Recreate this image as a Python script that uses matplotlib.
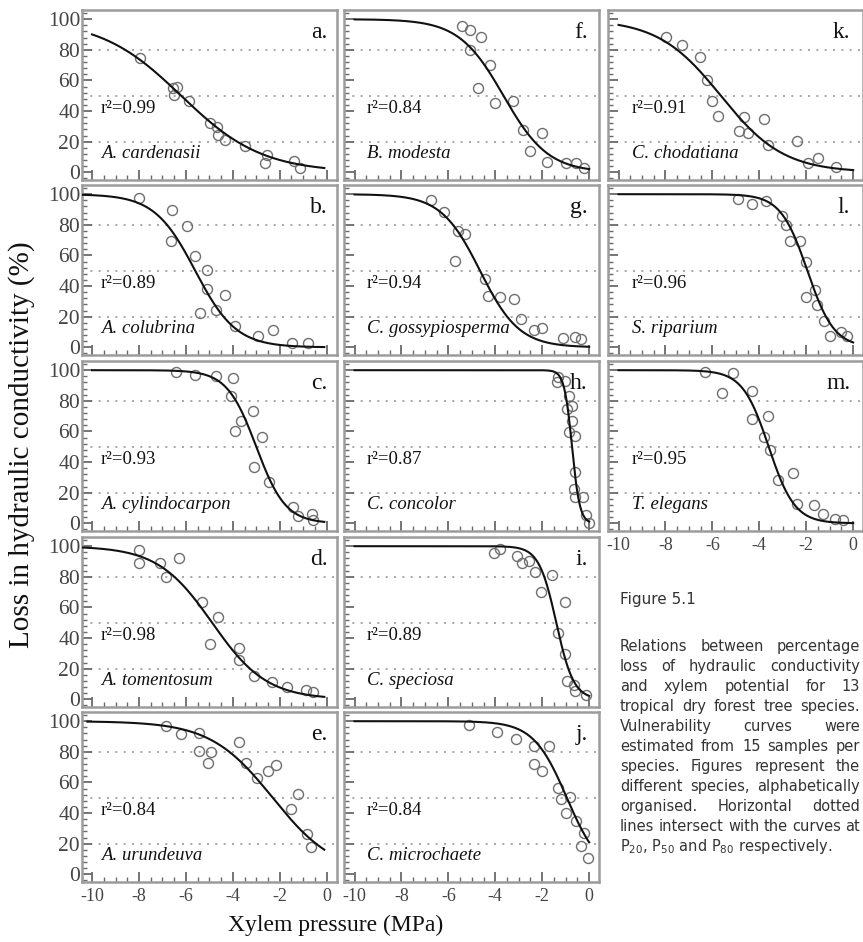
import numpy as np
import matplotlib
matplotlib.use('Agg')
import matplotlib.pyplot as plt
from matplotlib.ticker import MultipleLocator
from matplotlib.transforms import blended_transform_factory

plt.rcParams['axes.unicode_minus'] = False

W, H, DPI = 863, 942, 100

# ---------------- data ----------------
panel_ids = ['a', 'b', 'c', 'd', 'e', 'f', 'g', 'h', 'i', 'j', 'k', 'l', 'm']
species = ['A. cardenasii', 'A. colubrina', 'A. cylindocarpon', 'A. tomentosum', 'A. urundeuva',
           'B. modesta', 'C. gossypiosperma', 'C. concolor', 'C. speciosa', 'C. microchaete',
           'C. chodatiana', 'S. riparium', 'T. elegans']
r2 = ['0.99', '0.89', '0.93', '0.98', '0.84', '0.84', '0.94', '0.87', '0.89', '0.84', '0.91', '0.96', '0.95']

# fitted vulnerability curve parameters (P50 in MPa, slope)
p50 = [-6.2, -5.6, -3.0, -4.88, -2.3, -3.65, -4.65, -0.73, -1.4, -0.95, -5.64, -1.95, -3.6]
slope = [0.58, 1.15, 1.6, 0.86, 0.75, 1.05, 1.2, 6.0, 2.7, 1.4, 0.745, 1.75, 1.8]
curve_start = [-10.0, -10.4, -10.0, -10.4, -10.2, -10.0, -10.0, -10.0, -10.0, -10.0, -10.0, -10.0, -10.0]
curve_end = [-0.1, -0.1, -0.1, -0.1, -0.1, 0.0, 0.0, 0.0, 0.0, 0.0, 0.0, 0.0, 0.0]

a_x = [-7.95, -6.57, -6.38, -6.52, -5.88, -4.99, -4.67, -4.64, -4.32, -3.46, -2.54, -2.61, -1.40, -1.14]
a_y = [74.6, 55.0, 55.6, 50.6, 46.3, 32.0, 29.5, 24.4, 21.2, 17.2, 11.3, 6.3, 7.6, 2.6]
b_x = [-7.98, -6.60, -5.95, -6.64, -5.63, -5.10, -5.10, -4.32, -5.41, -4.70, -3.89, -2.92, -2.28, -1.47, -0.80]
b_y = [97.5, 89.9, 79.1, 69.7, 59.6, 50.7, 37.9, 34.0, 22.5, 24.3, 13.9, 7.4, 11.3, 3.0, 2.6]
c_x = [-6.41, -5.63, -4.70, -4.00, -4.06, -3.65, -3.13, -3.92, -2.76, -3.08, -2.44, -1.44, -1.21, -0.61, -0.57]
c_y = [99.0, 96.9, 96.2, 94.6, 83.2, 67.0, 73.1, 60.5, 56.2, 37.1, 26.9, 10.7, 4.6, 5.9, 2.0]
d_x = [-8.02, -8.02, -7.09, -6.31, -6.84, -5.31, -4.64, -4.99, -3.75, -3.75, -3.11, -2.32, -1.71, -0.90, -0.57]
d_y = [97.2, 88.7, 89.1, 92.4, 79.8, 63.5, 53.9, 35.9, 33.3, 25.4, 15.2, 11.3, 8.3, 5.9, 5.0]
e_x = [-6.84, -6.20, -5.46, -5.46, -4.93, -5.07, -3.72, -3.42, -2.99, -2.52, -2.14, -1.54, -1.24, -0.85, -0.68]
e_y = [97.0, 91.5, 92.2, 80.7, 79.6, 72.6, 86.5, 72.6, 63.0, 67.6, 71.3, 42.9, 52.6, 26.5, 18.0]
f_x = [-5.44, -5.08, -4.63, -5.09, -4.23, -4.73, -4.00, -3.26, -2.83, -2.00, -2.54, -1.79, -0.97, -0.56, -0.20]
f_y = [95.8, 92.7, 88.2, 80.1, 69.8, 55.0, 45.2, 46.3, 27.7, 26.0, 14.0, 7.0, 5.9, 5.9, 2.6]
g_x = [-6.74, -6.19, -5.61, -5.28, -5.73, -4.46, -4.31, -3.78, -3.20, -2.91, -2.37, -2.00, -1.10, -0.61, -0.35]
g_y = [96.2, 88.2, 76.2, 74.1, 56.3, 44.8, 33.4, 32.9, 31.8, 18.2, 11.3, 12.8, 5.8, 6.5, 5.2]
h_x = [-1.31, -1.36, -1.03, -0.85, -0.71, -0.95, -0.75, -0.88, -0.61, -0.59, -0.66, -0.27, -0.61, -0.13, -0.01]
h_y = [95.6, 92.0, 93.0, 83.2, 76.7, 74.5, 66.5, 59.4, 57.3, 33.4, 22.6, 17.2, 17.2, 5.3, 0.3]
i_x = [-4.05, -3.78, -3.09, -2.87, -2.58, -2.29, -1.57, -2.05, -1.04, -1.32, -1.04, -0.95, -0.64, -0.59, -0.13]
i_y = [95.8, 98.4, 93.6, 88.7, 90.2, 83.2, 81.1, 69.8, 63.7, 43.2, 29.6, 12.2, 9.6, 5.3, 2.7]
j_x = [-5.11, -3.91, -3.10, -2.33, -1.73, -2.37, -2.03, -1.34, -1.21, -0.83, -1.00, -0.57, -0.36, -0.06, -0.20]
j_y = [97.6, 93.0, 88.5, 83.9, 83.9, 72.0, 67.6, 56.6, 49.0, 50.6, 40.0, 35.0, 18.7, 10.9, 27.0]
k_x = [-7.97, -7.31, -6.51, -6.21, -6.00, -5.74, -4.64, -3.81, -4.88, -4.49, -3.63, -2.39, -1.94, -1.48, -0.73]
k_y = [88.4, 83.4, 75.1, 60.0, 46.3, 36.9, 36.0, 34.9, 27.3, 26.0, 17.9, 20.5, 6.3, 9.2, 3.3]
l_x = [-4.92, -4.30, -3.73, -3.03, -2.85, -2.70, -2.27, -2.02, -2.02, -1.63, -1.53, -1.23, -0.99, -0.53, -0.27]
l_y = [96.8, 93.6, 95.3, 86.0, 79.9, 69.7, 69.7, 55.7, 32.9, 37.3, 27.5, 17.1, 7.4, 10.2, 7.4]
m_x = [-6.31, -5.11, -5.57, -4.30, -4.30, -3.63, -3.81, -3.56, -3.20, -2.56, -2.39, -1.66, -1.27, -0.77, -0.42]
m_y = [99.0, 97.9, 84.8, 86.5, 68.1, 70.2, 56.6, 47.9, 28.5, 32.7, 12.9, 11.8, 5.9, 3.1, 2.5]

points_x = [a_x, b_x, c_x, d_x, e_x, f_x, g_x, h_x, i_x, j_x, k_x, l_x, m_x]
points_y = [a_y, b_y, c_y, d_y, e_y, f_y, g_y, h_y, i_y, j_y, k_y, l_y, m_y]

ref_levels = [20, 50, 80]
x_ticks = [-10, -8, -6, -4, -2, 0]
y_ticks = [0, 20, 40, 60, 80, 100]

caption_title = 'Figure 5.1'
caption_lines = ['Relations between percentage',
                 'loss of hydraulic conductivity',
                 'and xylem potential for 13',
                 'tropical dry forest tree species.',
                 'Vulnerability curves were',
                 'estimated from 15 samples per',
                 'species. Figures represent the',
                 'different species, alphabetically',
                 'organised. Horizontal dotted',
                 'lines intersect with the curves at',
                 'P$_{20}$, P$_{50}$ and P$_{80}$ respectively.']

# ---------------- layout ----------------
SERIF = ['Liberation Serif', 'DejaVu Serif']
col_left = [81.5, 344.0, 608.0]
row_top = [10, 185, 361, 537, 712]
AX_W, AX_H = 255, 170
col_txt_x = [0.076, 0.09, 0.093]
col_letter_x = [0.965, 0.955, 0.95]
layout = [(0, 0), (0, 1), (0, 2), (0, 3), (0, 4),
          (1, 0), (1, 1), (1, 2), (1, 3), (1, 4),
          (2, 0), (2, 1), (2, 2)]
bottom_panels = {'e', 'j', 'm'}

fig = plt.figure(figsize=(W / DPI, H / DPI), dpi=DPI)
fig.patch.set_facecolor('white')

GRAY_SPINE = '#9c9c9c'
GRAY_TICK = '#6a6a6a'
GRAY_LABEL = '#444444'

for idx, pid in enumerate(panel_ids):
    col, row = layout[idx]
    left = col_left[col]
    top = row_top[row]
    ax = fig.add_axes([left / W, 1 - (top + AX_H) / H, AX_W / W, AX_H / H])
    ax.set_xlim(-10.45, 0.42)
    ax.set_ylim(-5, 106)
    for sp in ax.spines.values():
        sp.set_color(GRAY_SPINE)
        sp.set_linewidth(1.8)
    for lv in ref_levels:
        ax.axhline(lv, color='#9a9a9a', lw=1.2, ls=(0, (1.2, 3.8)), zorder=1)
    xs = np.linspace(curve_start[idx], curve_end[idx], 400)
    ys = 100.0 / (1.0 + np.exp(slope[idx] * (xs - p50[idx])))
    ax.plot(points_x[idx], points_y[idx], 'o', ms=7.2, mfc='none', mec='#6e6e6e', mew=1.0, zorder=2)
    ax.plot(xs, ys, color='#111111', lw=1.5, zorder=3)

    ax.xaxis.set_major_locator(MultipleLocator(2))
    ax.xaxis.set_minor_locator(MultipleLocator(0.5))
    ax.yaxis.set_major_locator(MultipleLocator(20))
    ax.yaxis.set_minor_locator(MultipleLocator(4))
    ax.tick_params(which='major', direction='in', length=7, width=1.3, color=GRAY_TICK,
                   top=False, right=False)
    ax.tick_params(which='minor', direction='in', length=3.5, width=1.0, color=GRAY_TICK,
                   top=False, right=False)
    ax.set_xticks(x_ticks)
    ax.set_yticks(y_ticks)
    if col == 0:
        ax.set_yticklabels([str(v) for v in y_ticks], fontfamily=SERIF, fontsize=15.5, color=GRAY_LABEL)
        ax.tick_params(axis='y', which='major', pad=1)
    else:
        ax.set_yticklabels([])
    if pid in bottom_panels:
        ax.set_xticklabels([str(v) for v in x_ticks], fontfamily=SERIF, fontsize=13, color=GRAY_LABEL)
        ax.tick_params(axis='x', which='major', pad=4)
    else:
        ax.set_xticklabels([])

    tr = blended_transform_factory(ax.transAxes, ax.transData)
    ax.text(col_txt_x[col], 41.5, 'r\u00b2=' + r2[idx], transform=tr, fontfamily=SERIF,
            fontsize=13.5, va='center', ha='left', color='#111111')
    ax.text(col_txt_x[col], 12, species[idx], transform=tr, fontfamily=SERIF, style='italic',
            fontsize=13.5, va='center', ha='left', color='#111111')
    ax.text(col_letter_x[col], 0.87, pid + '.', transform=ax.transAxes, fontfamily=SERIF, fontsize=17,
            va='center', ha='right', color='#111111')

fig.text(22 / W, 1 - 445 / H, 'Loss in hydraulic conductivity (%)', rotation=90,
         fontfamily=SERIF, fontsize=21, ha='center', va='center', color='#111111')
fig.text(336 / W, 1 - 925 / H, 'Xylem pressure (MPa)', fontfamily=SERIF, fontsize=17,
         ha='center', va='center', color='#111111')

# ---------------- caption (justified) ----------------
CAP_FONT = ['DejaVu Sans']
CAP_SIZE = 10.5
CAP_COLOR = '#333333'
cap_left, cap_right = 620.0, 860.0
fig.text(cap_left / W, 1 - 604 / H, caption_title, fontfamily=CAP_FONT, fontsize=11,
         color=CAP_COLOR, ha='left', va='baseline')
renderer = fig.canvas.get_renderer()
line_y0, line_dy = 651.0, 20.0   # baselines in pixels from top
for li, line in enumerate(caption_lines):
    yy = 1 - (line_y0 + li * line_dy) / H
    if li == len(caption_lines) - 1:
        fig.text(cap_left / W, yy, line, fontfamily=CAP_FONT, fontsize=CAP_SIZE,
                 color=CAP_COLOR, ha='left', va='baseline')
        continue
    words = line.split(' ')
    objs = [fig.text(0, yy, w_, fontfamily=CAP_FONT, fontsize=CAP_SIZE, color=CAP_COLOR,
                     ha='left', va='baseline') for w_ in words]
    widths = [o.get_window_extent(renderer).width for o in objs]
    gap = (cap_right - cap_left - sum(widths)) / max(len(words) - 1, 1)
    x = cap_left
    for o, wd in zip(objs, widths):
        o.set_x(x / W)
        x += wd + gap

fig.savefig('out.png', dpi=DPI)
